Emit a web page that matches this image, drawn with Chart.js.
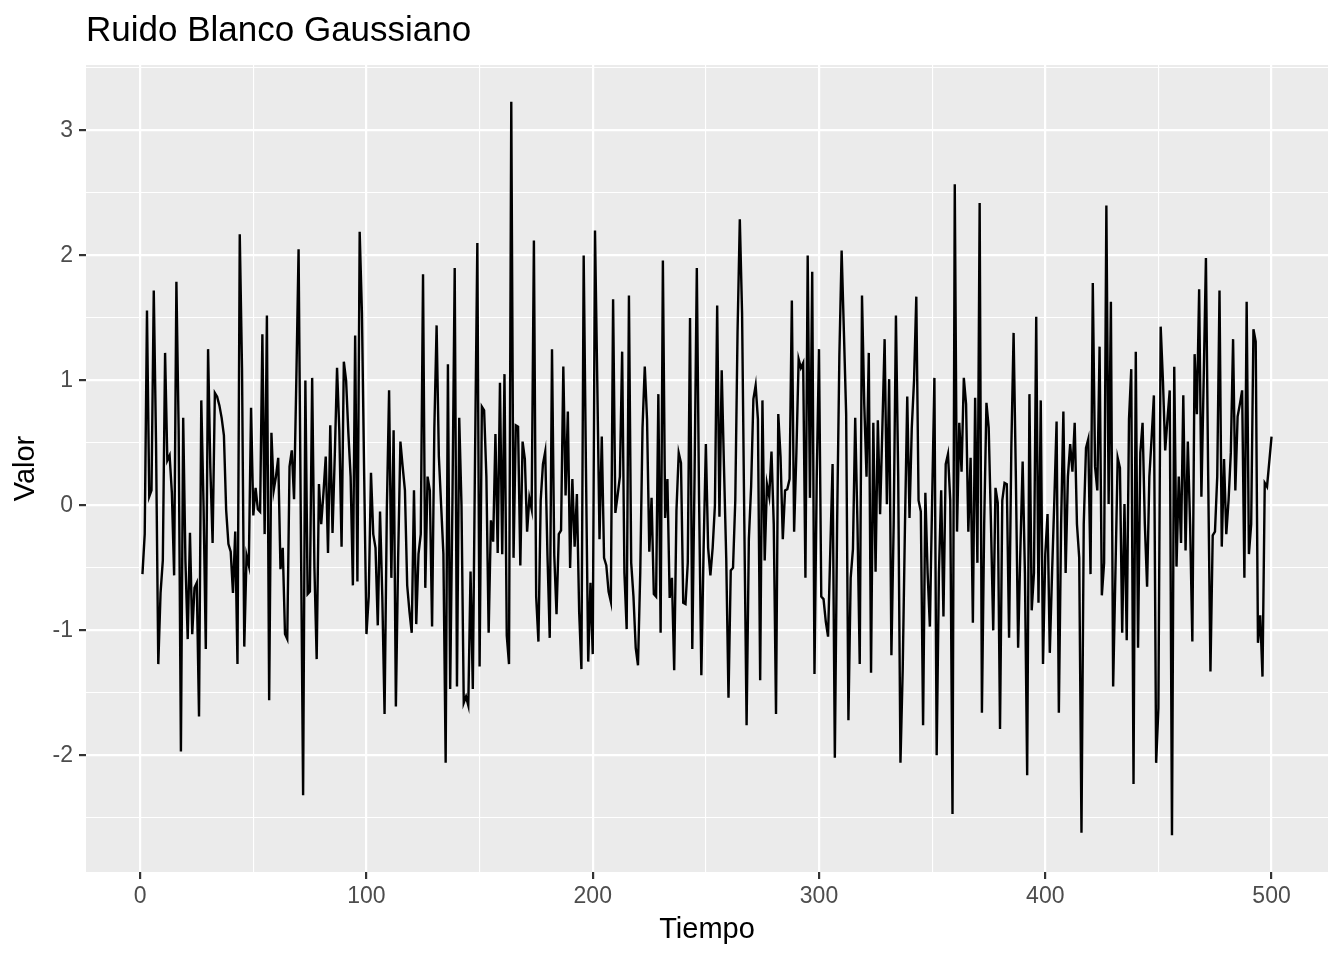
<!DOCTYPE html>
<html>
<head>
<meta charset="utf-8">
<title>Ruido Blanco Gaussiano</title>
<script src="https://cdn.jsdelivr.net/npm/chart.js@4.4.1/dist/chart.umd.min.js"></script>
<style>
  html, body { margin: 0; padding: 0; background: #ffffff; }
  #cadre { width: 1344px; height: 960px; }
</style>
</head>
<body>
<div id="cadre"><canvas id="chart"></canvas></div>
<script>
// valores, t = 1..500
var valores = [
  -0.55,-0.23,1.56,0.07,0.12,1.72,0.5,-1.27,-0.7,-0.44,
  1.22,0.36,0.4,0.1,-0.56,1.79,0.6,-1.97,0.7,-0.45,
  -1.07,-0.22,-1.03,-0.66,-0.62,-1.69,0.84,0.0,-1.15,1.25,
  0.3,-0.3,0.9,0.87,0.8,0.7,0.56,-0.04,-0.31,-0.37,
  -0.7,-0.21,-1.27,2.17,1.1,-1.13,-0.4,-0.48,0.78,-0.08,
  0.14,-0.03,-0.05,1.37,-0.23,1.52,-1.56,0.58,0.12,0.23,
  0.38,-0.51,-0.34,-1.03,-1.07,0.31,0.44,0.05,1.0,2.05,
  -0.15,-2.32,1.0,-0.71,-0.69,1.02,-0.5,-1.23,0.17,-0.15,
  0.1,0.39,-0.38,0.64,-0.22,0.4,1.1,0.6,-0.33,1.15,
  1.0,0.58,0.23,-0.64,1.36,-0.61,2.19,1.54,0.23,-1.03,
  -0.73,0.26,-0.23,-0.34,-0.96,-0.05,-0.73,-1.67,-0.04,0.92,
  -0.58,0.6,-1.61,-0.42,0.51,0.31,0.12,-0.64,-0.85,-1.02,
  0.12,-0.95,-0.39,-0.23,1.85,-0.66,0.23,0.12,-0.97,0.62,
  1.44,0.39,0.0,-0.39,-2.06,1.13,-1.47,0.04,1.9,-1.45,
  0.7,0.0,-1.58,-1.53,-1.6,-0.53,-1.47,0.42,2.1,-1.29,
  0.79,0.76,0.23,-1.02,-0.12,-0.29,0.57,-0.38,0.98,-0.39,
  1.05,-1.04,-1.27,3.23,-0.42,0.64,0.63,-0.48,0.51,0.37,
  -0.21,0.06,-0.03,2.12,-0.73,-1.09,0.04,0.33,0.43,-0.4,
  -1.06,1.25,-0.4,-0.87,-0.23,-0.2,1.11,0.08,0.75,-0.5,
  0.21,-0.33,0.09,-0.85,-1.31,2.0,0.3,-1.25,-0.62,-1.19,
  2.2,1.0,-0.27,0.55,-0.42,-0.48,-0.69,-0.77,1.65,-0.06,
  0.08,0.23,1.23,-0.54,-0.99,1.68,-0.46,-0.73,-1.14,-1.28,
  -0.54,0.62,1.11,0.69,-0.37,0.06,-0.71,-0.73,0.89,-1.02,
  1.96,-0.1,0.21,-0.74,-0.58,-1.32,-0.04,0.42,0.34,-0.78,
  -0.79,-0.46,1.5,-1.15,0.23,1.9,0.04,-1.36,-0.35,0.49,
  -0.34,-0.56,-0.34,0.0,1.6,-0.09,1.08,0.31,-0.42,-1.54,
  -0.52,-0.5,0.04,1.39,2.29,1.54,-0.15,-1.76,-0.27,0.15,
  0.85,0.96,0.69,-1.4,0.84,-0.44,0.17,0.07,0.43,-0.15,
  -1.67,0.73,0.39,-0.27,0.12,0.13,0.21,1.64,-0.21,0.42,
  1.17,1.1,1.14,-0.58,2.0,0.06,1.87,-1.35,0.23,1.25,
  -0.73,-0.75,-0.93,-1.05,-0.35,0.33,-2.02,-0.15,1.2,2.04,
  1.39,0.73,-1.72,-0.58,-0.35,0.7,-0.15,-1.27,1.68,0.81,
  0.23,1.22,-1.34,0.66,-0.53,0.68,-0.07,0.62,1.33,0.01,
  1.01,-1.2,-0.15,1.52,0.23,-2.06,-1.31,-0.15,0.87,-0.1,
  0.62,1.0,1.67,0.04,-0.05,-1.76,0.1,-0.54,-0.97,0.04,
  1.02,-2.0,-0.54,0.12,-0.89,0.33,0.41,0.04,-2.47,2.57,
  -0.21,0.66,0.27,1.02,0.81,-0.21,0.38,-0.94,0.86,-0.46,
  2.42,-1.66,-0.15,0.82,0.62,-0.15,-1.0,0.14,0.02,-1.79,
  0.04,0.18,0.17,-1.06,0.46,1.38,0.23,-1.14,-0.35,0.35,
  -0.54,-2.16,0.89,-0.84,-0.54,1.51,-0.78,0.84,-1.27,-0.39,
  -0.07,-1.18,-0.54,0.04,0.67,-1.66,-0.15,0.75,-0.54,0.23,
  0.49,0.27,0.66,-0.15,-0.42,-2.62,-0.15,0.46,0.53,-0.55,
  1.78,0.31,0.12,1.27,-0.72,-0.46,2.4,0.01,1.63,-1.45,
  -0.54,0.38,0.3,-1.02,0.01,-1.08,0.69,1.09,-2.23,1.23,
  -1.14,0.42,0.66,-0.15,-0.65,0.23,0.54,0.88,-2.06,-1.62,
  1.43,1.0,0.44,0.69,0.92,-2.64,1.11,-0.49,0.23,-0.3,
  0.88,-0.36,0.51,-0.15,-1.09,1.21,0.73,1.73,0.07,1.0,
  1.98,0.23,-1.33,-0.24,-0.21,0.23,1.72,-0.33,0.37,-0.23,
  0.04,0.42,1.33,0.12,0.71,0.81,0.92,-0.58,1.63,-0.39,
  -0.15,1.41,1.31,-1.1,-0.88,-1.37,0.18,0.15,0.35,0.55
];
// marcas de los ejes (principales y secundarias)
var marcasX = [0, 50, 100, 150, 200, 250, 300, 350, 400, 450, 500];
var marcasY = [-2.5, -2, -1.5, -1, -0.5, 0, 0.5, 1, 1.5, 2, 2.5, 3, 3.5];
var titulo = 'Ruido Blanco Gaussiano';
var tituloX = 'Tiempo';
var tituloY = 'Valor';

var puntos = [];
for (var i = 0; i < valores.length; i++) {
  puntos.push({x: i + 1, y: valores[i]});
}

// expansion de 5% como ggplot
var ymin = Math.min.apply(null, valores), ymax = Math.max.apply(null, valores);
var ry = ymax - ymin, rx = valores.length - 1;

function esMayorX(v) { return v % 100 === 0; }
function esMayorY(v) { return Math.abs(v - Math.round(v)) < 1e-9; }

// fondo gris del panel
var fondoPanel = {
  id: 'fondoPanel',
  beforeDraw: function(chart) {
    var a = chart.chartArea, ctx = chart.ctx;
    ctx.save();
    ctx.fillStyle = '#EBEBEB';
    ctx.fillRect(a.left, a.top, a.right - a.left, a.bottom - a.top);
    ctx.restore();
  }
};

Chart.defaults.font.family = '"Liberation Sans", Arial, sans-serif';

var grafico = new Chart(document.getElementById('chart'), {
  type: 'line',
  data: {
    datasets: [{
      data: puntos,
      borderColor: '#000000',
      borderWidth: 2.4,
      pointRadius: 0,
      tension: 0,
      fill: false
    }]
  },
  options: {
    responsive: true,
    maintainAspectRatio: false,
    devicePixelRatio: 1,
    animation: false,
    layout: { padding: { left: 0, right: 16, top: 0, bottom: 0 } },
    plugins: {
      legend: { display: false },
      tooltip: { enabled: false },
      title: {
        display: true,
        text: titulo,
        align: 'start',
        fullSize: false,
        color: '#000000',
        font: { size: 35, weight: 'normal' },
        padding: { top: 10, bottom: 13 }
      }
    },
    scales: {
      x: {
        type: 'linear',
        min: 1 - 0.05 * rx,
        max: valores.length + 0.05 * rx,
        afterBuildTicks: function(s) {
          s.ticks = marcasX.map(function(v) { return {value: v}; });
        },
        afterFit: function(s) { s.height = 88; },
        border: { display: false },
        grid: {
          color: '#FFFFFF',
          lineWidth: function(c) { return esMayorX(c.tick.value) ? 2.2 : 1.1; },
          tickLength: 7,
          tickColor: function(c) { return esMayorX(c.tick.value) ? '#333333' : 'rgba(0,0,0,0)'; },
          tickWidth: function(c) { return esMayorX(c.tick.value) ? 2.2 : 0; }
        },
        ticks: {
          autoSkip: false,
          maxRotation: 0,
          padding: 4,
          color: '#4D4D4D',
          font: { size: 23 },
          callback: function(v) { return esMayorX(v) ? String(v) : ''; }
        },
        title: {
          display: true,
          text: tituloX,
          color: '#000000',
          font: { size: 29 },
          padding: { top: 0, bottom: 13 }
        }
      },
      y: {
        min: ymin - 0.05 * ry,
        max: ymax + 0.05 * ry,
        afterBuildTicks: function(s) {
          s.ticks = marcasY.map(function(v) { return {value: v}; });
        },
        afterFit: function(s) { s.width = 86; },
        border: { display: false },
        grid: {
          color: '#FFFFFF',
          lineWidth: function(c) { return esMayorY(c.tick.value) ? 2.2 : 1.1; },
          tickLength: 7,
          tickColor: function(c) { return esMayorY(c.tick.value) ? '#333333' : 'rgba(0,0,0,0)'; },
          tickWidth: function(c) { return esMayorY(c.tick.value) ? 2.2 : 0; }
        },
        ticks: {
          autoSkip: false,
          padding: 6,
          color: '#4D4D4D',
          font: { size: 23 },
          callback: function(v) { return esMayorY(v) ? String(v) : ''; }
        },
        title: {
          display: true,
          text: tituloY,
          color: '#000000',
          font: { size: 29 },
          padding: { top: 9, bottom: 0 }
        }
      }
    }
  },
  plugins: [fondoPanel]
});
</script>
</body>
</html>
